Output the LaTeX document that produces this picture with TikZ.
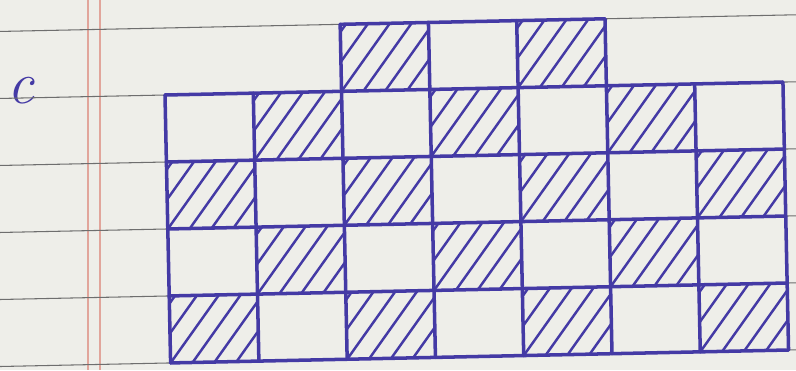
\documentclass[tikz,border=0pt]{standalone}
\usetikzlibrary{positioning}
\definecolor{ink}{RGB}{68,58,165}
\definecolor{paper}{RGB}{238,238,233}
\definecolor{ruled}{RGB}{110,110,110}
\definecolor{margin}{RGB}{225,165,155}

\begin{document}
\begin{tikzpicture}[x=0.02cm,y=-0.02cm]
  \tikzset{
    gridline/.style={draw=ink,line width=2pt,line cap=round},
    hatchline/.style={draw=ink,line width=1.4pt},
    ruleline/.style={draw=ruled,line width=0.6pt},
    marginline/.style={draw=margin,line width=0.6pt},
    lab/.style={font=\fontsize{34}{34}\selectfont\itshape,text=ink}
  }
  \fill[paper] (0,0) rectangle (796,370);
  \useasboundingbox (0,0) rectangle (796,370);
  % margin of the page
  \draw[marginline] (88,0) -- (88,370);
  \draw[marginline] (100,0) -- (100,370);
  \node[lab] (lblc) at (21,91) {c};
  \begin{scope}[rotate around={1.2:(165,95)}]
    % ruled lines
    \foreach \y in {28,95,...,363}
      \draw[ruleline] (-60,\y) -- (860,\y);
    % hatched cells, column/row
    \foreach \c/\r in {3/0,5/0,2/1,4/1,6/1,1/2,3/2,5/2,7/2,2/3,4/3,6/3,1/4,3/4,5/4,7/4}
    {
      \begin{scope}
        \clip (76.7+88.3*\c,28+67*\r) rectangle ++(88.3,67);
        \foreach \s in {-66,-44,...,88}
          \draw[hatchline] (76.7+88.3*\c+\s,95+67*\r) -- ++(52,-70);
      \end{scope}
    }
    % grid
    \foreach \r in {1,...,5}
      \draw[gridline] (165,28+67*\r) -- (783,28+67*\r);
    \foreach \c in {0,...,7}
      \draw[gridline] (165+88.3*\c,95) -- (165+88.3*\c,363);
    \draw[gridline] (341.6,28) -- (606.5,28);
    \foreach \c in {2,...,5}
      \draw[gridline] (165+88.3*\c,28) -- ++(0,67);
  \end{scope}
\end{tikzpicture}
\end{document}
